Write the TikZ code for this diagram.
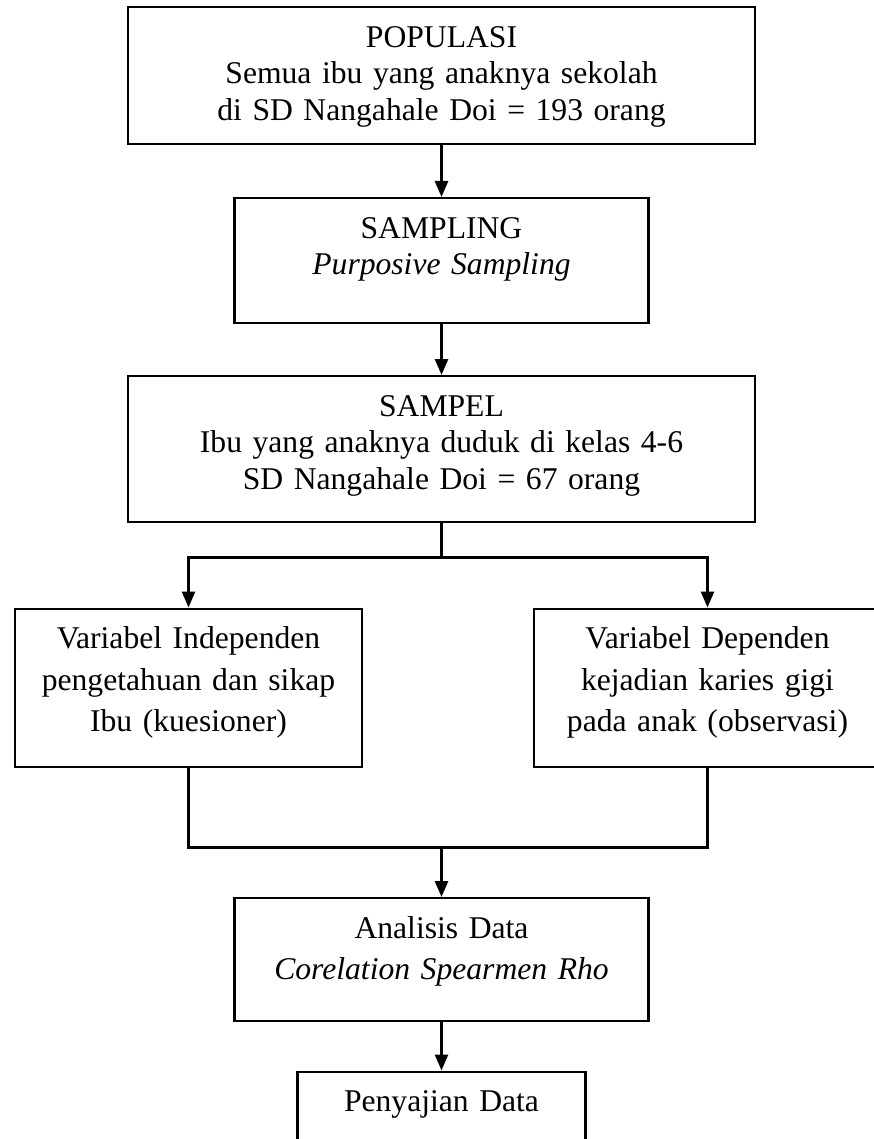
\documentclass[tikz,border=0pt]{standalone}
\RequirePackage{fontspec}
\setmainfont{Liberation Serif}
\RequirePackage{tikz}
\usetikzlibrary{arrows.meta}

\begin{document}
\begin{tikzpicture}[line width=1.2pt,
                    >={Triangle[length=3.2mm,width=2.6mm]},
                    kotak/.style={draw, anchor=north, inner sep=0pt, align=center,
                                  text height=8mm, text depth=#1,
                                  font=\fontsize{18}{20.9}\selectfont},
                    kotak/.default=17mm,
                    longgar/.style={font=\fontsize{18}{23.6}\selectfont},
                    garis/.style={line width=1.5pt}]
                    \useasboundingbox (0,0) rectangle (17.46,-22.78);

                    \node[kotak=19.4mm, text width=12.54cm] (populasi) at (8.83,-0.12)
                        {POPULASI\\ Semua ibu yang anaknya sekolah\\ di SD Nangahale Doi = 193 orang};
                    \node[kotak=17mm, text width=8.28cm] (sampling) at (8.83,-3.94)
                        {SAMPLING\\ \textit{Purposive Sampling}};
                    \node[kotak=21.1mm, text width=12.54cm] (sampel) at (8.83,-7.5)
                        {SAMPEL\\ Ibu yang anaknya duduk di kelas 4-6\\ SD Nangahale Doi = 67 orang};

                    \node[kotak=23.7mm, longgar, text width=6.94cm] (independen) at (3.77,-12.15)
                        {Variabel Independen\\ pengetahuan dan sikap\\ Ibu (kuesioner)};
                    \node[kotak=23.7mm, longgar, text width=6.94cm] (dependen) at (14.15,-12.15)
                        {Variabel Dependen\\ kejadian karies gigi\\ pada anak (observasi)};

                    \node[kotak=16.6mm, longgar, text width=8.28cm] (analisis) at (8.83,-17.94)
                        {Analisis Data\\ \textit{Corelation Spearmen Rho}};
                    \node[kotak=16mm, text width=5.76cm] (penyajian) at (8.83,-21.41)
                        {Penyajian Data};

                    \coordinate (cabang) at (8.83,-11.15);
                    \coordinate (gabung) at (8.83,-16.95);

                    \draw[garis,->] (populasi.south) -- (sampling.north);
                    \draw[garis,->] (sampling.south) -- (sampel.north);
                    \draw[garis] (sampel.south) -- (cabang);
                    \draw[garis,->] (cabang) -| (independen.north);
                    \draw[garis,->] (cabang) -| (dependen.north);
                    \draw[garis] (independen.south) |- (gabung);
                    \draw[garis] (dependen.south) |- (gabung);
                    \draw[garis,->] (gabung) -- (analisis.north);
                    \draw[garis,->] (analisis.south) -- (penyajian.north);
                \end{tikzpicture}
\end{document}
